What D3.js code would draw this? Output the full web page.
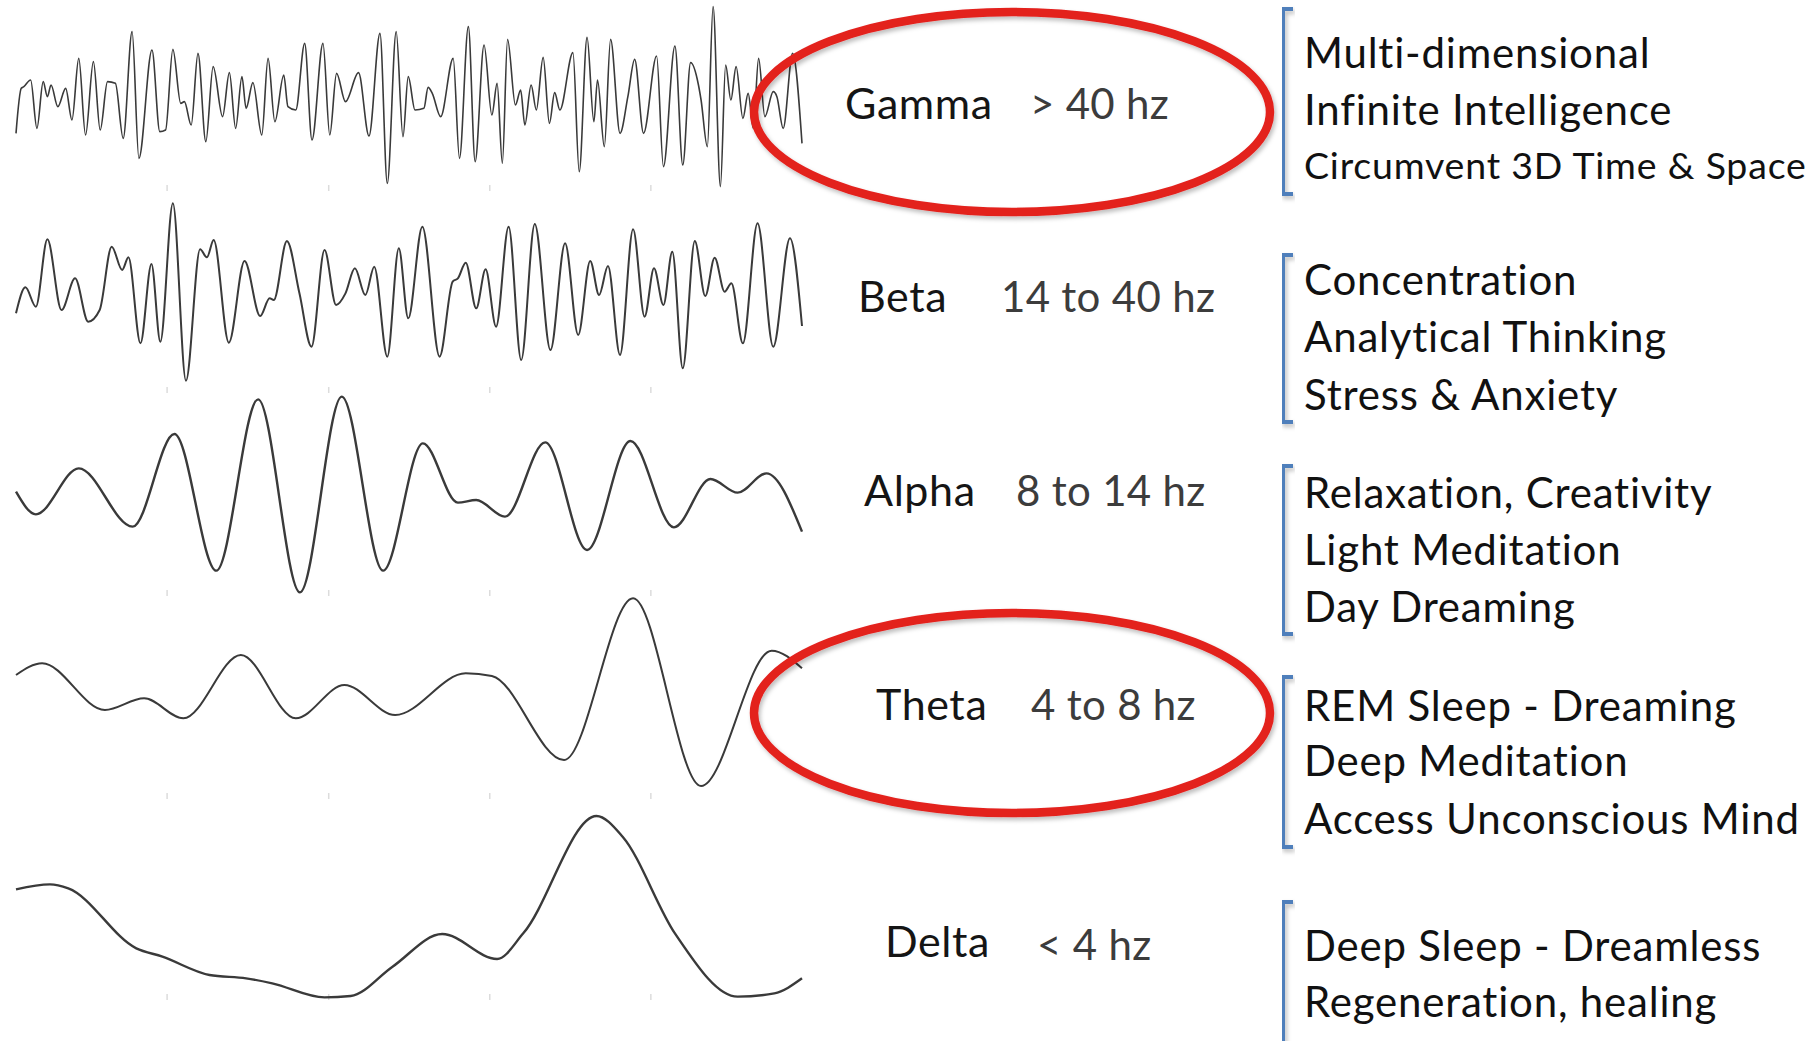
<!DOCTYPE html>
<html>
<head>
<meta charset="utf-8">
<script src="https://cdn.jsdelivr.net/npm/d3@7/dist/d3.min.js"></script>
<style>
  body { margin: 0; background: #fff; }
  text { font-family: Lato, "Open Sans", sans-serif; }
</style>
</head>
<body>
<svg id="chart"></svg>
<script>
// brain wave bands, left to right: name, frequency range, effects
let bands = ["Gamma", "Beta", "Alpha", "Theta", "Delta"];
let ranges = ["> 40 hz", "14 to 40 hz", "8 to 14 hz", "4 to 8 hz", "< 4 hz"];
let effects = [
    ["Multi-dimensional", "Infinite Intelligence", "Circumvent 3D Time & Space"],
    ["Concentration", "Analytical Thinking", "Stress & Anxiety"],
    ["Relaxation, Creativity", "Light Meditation", "Day Dreaming"],
    ["REM Sleep - Dreaming", "Deep Meditation", "Access Unconscious Mind"],
    ["Deep Sleep - Dreamless", "Regeneration, healing"]
];
let highlighted = ["Gamma", "Theta"];

// traces: [time ms, amplitude uV], turning points
let gamma = [[0,-100],[10,35],[15,40],[28,60],[40,-85],[52,55],[60,10],[67,45],[80,-20],[95,35],[107,-60],[120,125],[133,-105],[148,115],[161,-90],[175,55],[190,50],[205,-115],[222,205],[235,-175],[260,150],[275,-95],[286,-90],[300,152],[315,-10],[322,-5],[335,-75],[348,140],[363,-125],[377,100],[395,-50],[408,82],[420,-85],[432,70],[440,-25],[453,52],[470,-105],[482,125],[495,-65],[512,75],[520,-20],[535,-30],[552,170],[566,-120],[587,170],[600,-105],[613,80],[630,-5],[655,82],[675,-108],[696,200],[710,-250],[727,205],[740,-110],[750,70],[763,-30],[780,-25],[788,38],[796,20],[812,-50],[836,125],[848,-175],[865,220],[878,-185],[895,165],[910,-45],[920,50],[930,-190],[940,182],[955,-15],[965,30],[973,-75],[985,45],[995,-30],[1008,128],[1020,-70],[1030,22],[1040,-30],[1065,142],[1077,-215],[1092,188],[1105,-65],[1112,60],[1125,-140],[1137,182],[1155,-100],[1170,10],[1183,122],[1200,-100],[1225,132],[1238,-200],[1260,162],[1275,-195],[1290,112],[1305,45],[1310,0],[1322,-140],[1333,280],[1347,-260],[1357,105],[1367,0],[1377,100],[1390,-55],[1400,20],[1410,-85],[1420,125],[1432,-50],[1448,25],[1455,10],[1467,-85],[1485,140],[1503,-130]];
let beta = [[0,-70],[18,8],[38,-50],[60,152],[87,-60],[113,35],[138,-95],[160,-60],[183,130],[203,60],[215,98],[238,-160],[259,78],[276,-155],[300,260],[325,-272],[352,122],[365,98],[378,150],[407,-158],[437,87],[467,-78],[485,-25],[493,-30],[518,147],[542,-10],[565,-170],[590,120],[612,-45],[630,-10],[648,65],[668,-15],[685,70],[710,-200],[732,125],[750,-85],[777,190],[810,-200],[835,25],[845,35],[860,82],[880,-55],[898,62],[918,-110],[942,190],[966,-210],[992,198],[1022,-180],[1050,140],[1075,-135],[1098,87],[1115,-15],[1132,72],[1155,-195],[1180,182],[1202,-80],[1220,65],[1238,-45],[1255,115],[1275,-235],[1298,147],[1318,-18],[1336,97],[1355,-5],[1368,20],[1390,-160],[1418,200],[1448,-170],[1480,155],[1503,-108]];
let alpha = [[0,25],[38,-43],[120,95],[223,-80],[303,198],[383,-212],[463,302],[543,-277],[623,310],[702,-212],[778,170],[845,-8],[880,0],[935,-50],[1012,173],[1092,-150],[1175,177],[1258,-82],[1328,63],[1380,22],[1435,80],[1503,-95]];
let theta = [[0,45],[50,80],[170,-60],[245,-25],[320,-85],[430,105],[535,-85],[628,15],[725,-75],[860,50],[910,42],[1048,-210],[1180,275],[1310,-288],[1445,118],[1503,65]];
let delta = [[0,32],[65,47],[100,35],[230,-145],[280,-170],[370,-225],[440,-235],[490,-250],[590,-292],[640,-288],[720,-200],[815,-102],[920,-177],[970,-100],[1110,252],[1160,190],[1260,-100],[1380,-290],[1450,-280],[1503,-235]];
let traces = [gamma, beta, alpha, theta, delta];
let tickTimes = [288, 597, 905, 1213];

let svgWidth = 1814;
let svgHeight = 1041;

// row layout
let baselines = [100, 290, 500, 690, 900];
let rowEdges = [188, 390, 593, 796, 997];
let labelBaselines = [119, 312, 506, 720, 957];
let lineWidths = [1.6, 2, 2.4, 2, 2.4];
let effectBaselines = [[68, 125, 179], [295, 352, 410], [508, 565, 622], [721, 776, 834], [961, 1017]];
let bracketSpans = [[9, 194], [255, 422], [466, 634], [677, 847], [902, 1050]];

let svg = d3.select("#chart")
    .attr("width", svgWidth)
    .attr("height", svgHeight);

let defs = svg.append("defs");
defs.append("filter")
    .attr("id", "shadow")
    .attr("x", "-10%").attr("y", "-10%").attr("width", "130%").attr("height", "130%")
    .append("feDropShadow")
    .attr("dx", 2).attr("dy", 3).attr("stdDeviation", 2)
    .attr("flood-color", "#000").attr("flood-opacity", 0.25);

let x = d3.scaleLinear()
    .domain([0, 1503])
    .range([16, 802]);

let line = d3.line().curve(d3.curveMonotoneX);

// faint ticks between rows
let tickAxis = d3.axisBottom(x)
    .tickValues(tickTimes)
    .tickSize(6)
    .tickFormat("");

rowEdges.forEach(function (e) {
    let g = svg.append("g")
        .attr("transform", "translate(0," + (e - 3) + ")")
        .call(tickAxis);
    g.select(".domain").remove();
    g.selectAll("line").attr("stroke", "#dcdcdc").attr("stroke-width", 1.5);
});

// waves
traces.forEach(function (trace, i) {
    let y = d3.scaleLinear()
        .domain([-300, 300])
        .range([baselines[i] + 100, baselines[i] - 100]);
    line.x(function (d) { return x(d[0]) })
        .y(function (d) { return y(d[1]) });
    svg.append("path")
        .datum(trace)
        .attr("fill", "none")
        .attr("stroke", "#3a3a3a")
        .attr("stroke-width", lineWidths[i])
        .attr("stroke-linejoin", "round")
        .attr("d", line);
});

// band name + frequency
let labelX = [845, 858, 864, 876, 885];
let rangeX = [1030, 1001, 1016, 1031, 1037];

bands.forEach(function (b, i) {
    svg.append("text")
        .attr("x", labelX[i])
        .attr("y", labelBaselines[i])
        .attr("font-size", 43)
        .attr("letter-spacing", 0.6)
        .attr("fill", "#151515")
        .text(b);
    svg.append("text")
        .attr("x", rangeX[i])
        .attr("y", labelBaselines[i] + (i == 4 ? 3 : 0))
        .attr("font-size", 42)
        .attr("letter-spacing", 0.3)
        .attr("fill", "#3c3c3c")
        .text(ranges[i]);

    if (highlighted.indexOf(b) >= 0) {
        svg.append("ellipse")
            .attr("cx", 1012)
            .attr("cy", labelBaselines[i] - 7)
            .attr("rx", 258)
            .attr("ry", 100)
            .attr("fill", "none")
            .attr("stroke", "#e3201e")
            .attr("stroke-width", 8.5)
            .attr("filter", "url(#shadow)");
    }

    // bracket
    let s = bracketSpans[i];
    svg.append("path")
        .attr("d", "M1293," + s[0] + "H1283V" + s[1] + "H1293")
        .attr("fill", "none")
        .attr("stroke", "#4f7fbb")
        .attr("stroke-width", 4)
        .attr("filter", "url(#shadow)");

    effects[i].forEach(function (t, j) {
        let small = (i == 0 && j == 2);
        svg.append("text")
            .attr("x", 1304)
            .attr("y", effectBaselines[i][j])
            .attr("font-size", small ? 37.5 : 42)
            .attr("letter-spacing", 0.8)
            .attr("fill", "#111")
            .text(t);
    });
});
</script>
</body>
</html>
